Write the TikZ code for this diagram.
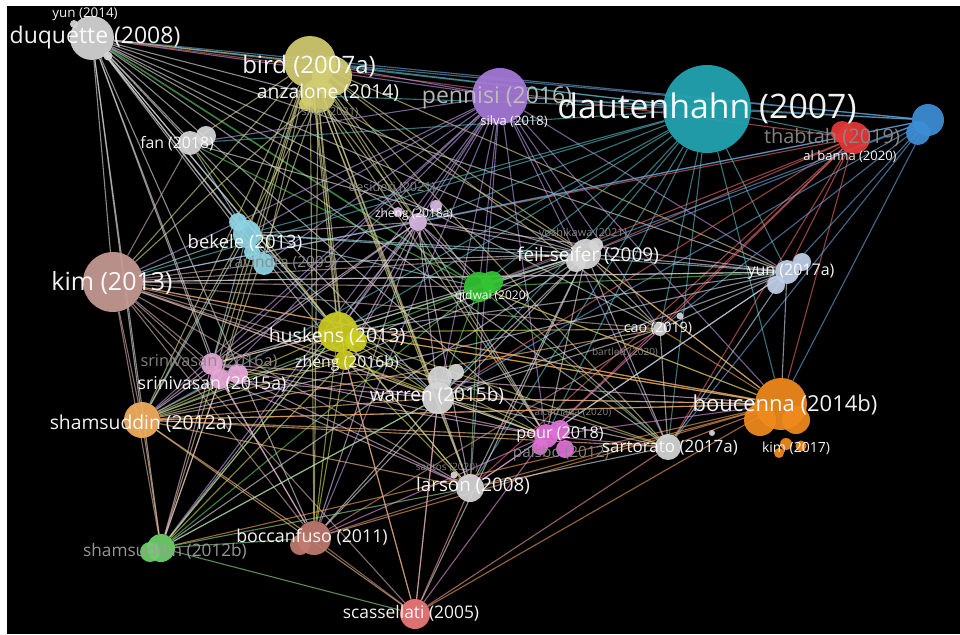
\documentclass[tikz,border=0pt]{standalone}
\usepackage{fontspec}
\setmainfont{Open Sans}
\pgfdeclarelayer{back}
\pgfdeclarelayer{edges}
\pgfsetlayers{back,edges,main}
\definecolor{cgry}{HTML}{D6D6D6}
\definecolor{cbird}{HTML}{D2CC72}
\definecolor{cpen}{HTML}{A67AD8}
\definecolor{cdau}{HTML}{22A6B3}
\definecolor{ctha}{HTML}{E63838}
\definecolor{cblu}{HTML}{3D8FD6}
\definecolor{czh}{HTML}{D8B8E2}
\definecolor{cbek}{HTML}{8ED4E4}
\definecolor{ckim}{HTML}{C89A94}
\definecolor{cqid}{HTML}{33C433}
\definecolor{cyun}{HTML}{C0D0E8}
\definecolor{chus}{HTML}{CCCC22}
\definecolor{csri}{HTML}{E8A8D8}
\definecolor{csham}{HTML}{F4B060}
\definecolor{cpour}{HTML}{E070D8}
\definecolor{cbou}{HTML}{F08A1C}
\definecolor{csht}{HTML}{6ED06A}
\definecolor{cbocc}{HTML}{C07A6E}
\definecolor{cscas}{HTML}{EC7A7A}
\definecolor{cfade}{HTML}{8A8A8A}
\tikzset{
  bub/.style={circle, fill=#1, draw=none, inner sep=0pt, fill opacity=0.93},
  lnk/.style={draw=#1!75!white, line width=1.1pt, draw opacity=0.62},
  lab/.style={font=\fontsize{#1}{#1}\selectfont, text=white, inner sep=0pt, text opacity=0.95},
  fad/.style={text=cfade}
}
\begin{document}
\begin{tikzpicture}[x=1pt,y=-1pt]
\useasboundingbox (0,0) rectangle (960,634);
\begin{pgfonlayer}{back}
\fill[white] (0,0) rectangle (960,634);
\fill[black] (7,6) rectangle (960,634);
\end{pgfonlayer}
% ---------- bubbles ----------
\node[bub=cgry, minimum size=8pt] (duq-b1) at (74,24) {};
\node[bub=cgry, minimum size=9pt] (duq-b2) at (108,56) {};
\node[bub=cgry, minimum size=44pt] (duq) at (92,38) {};
\node[bub=cbird, minimum size=40pt] (bird-b1) at (332,76) {};
\node[bub=cbird, minimum size=52pt] (bird) at (310,62) {};
\node[bub=cbird, minimum size=34pt] (anz) at (318,96) {};
\node[bub=cbird, minimum size=14pt] (silva21) at (306,104) {};
\node[bub=cpen, minimum size=56pt] (pen) at (500,96) {};
\node[bub=cdau, minimum size=88pt] (dau) at (707,109) {};
\node[bub=ctha, minimum size=22pt] (tha-b1) at (842,132) {};
\node[bub=ctha, minimum size=32pt] (tha) at (854,138) {};
\node[bub=cblu, minimum size=24pt] (blu-b1) at (918,133) {};
\node[bub=cblu, minimum size=32pt] (blu) at (928,120) {};
\node[bub=cgry, minimum size=20pt] (fan-b1) at (206,136) {};
\node[bub=cgry, minimum size=24pt] (fan) at (190,143) {};
\node[bub=czh, minimum size=12pt] (zh-b1) at (436,206) {};
\node[bub=czh, minimum size=18pt] (zh) at (418,222) {};
\node[bub=czh, minimum size=10pt] (zh-b2) at (398,212) {};
\node[bub=cbek, minimum size=18pt] (bek-b1) at (238,222) {};
\node[bub=cbek, minimum size=28pt] (bek) at (247,234) {};
\node[bub=cbek, minimum size=16pt] (bek-b2) at (252,252) {};
\node[bub=cbek, minimum size=22pt] (ravi) at (264,264) {};
\node[bub=ckim, minimum size=60pt] (kim) at (113,282) {};
\node[bub=cqid, minimum size=22pt] (qid-b1) at (492,282) {};
\node[bub=cqid, minimum size=30pt] (qid) at (479,287) {};
\node[bub=cgry, minimum size=20pt] (feil-b1) at (576,262) {};
\node[bub=cgry, minimum size=14pt] (feil-b2) at (596,245) {};
\node[bub=cgry, minimum size=30pt] (feil) at (586,254) {};
\node[bub=cyun, minimum size=18pt] (yun-b1) at (776,285) {};
\node[bub=cyun, minimum size=18pt] (yun-b2) at (802,262) {};
\node[bub=cyun, minimum size=24pt] (yun) at (787,272) {};
\node[bub=cgry, minimum size=7pt] (cao-b1) at (680,316) {};
\node[bub=cgry, minimum size=14pt] (cao) at (660,329) {};
\node[bub=chus, minimum size=22pt] (hus-b1) at (356,341) {};
\node[bub=chus, minimum size=20pt] (zh16) at (345,360) {};
\node[bub=chus, minimum size=40pt] (hus) at (338,332) {};
\node[bub=csri, minimum size=20pt] (sri-b1) at (238,374) {};
\node[bub=csri, minimum size=22pt] (sri) at (212,364) {};
\node[bub=csri, minimum size=20pt] (sri15) at (220,379) {};
\node[bub=csham, minimum size=36pt] (sham) at (142,420) {};
\node[bub=cgry, minimum size=16pt] (war-b1) at (456,372) {};
\node[bub=cgry, minimum size=24pt] (war-b2) at (440,378) {};
\node[bub=cgry, minimum size=32pt] (war) at (438,398) {};
\node[bub=cpour, minimum size=16pt] (pour-b1) at (540,447) {};
\node[bub=cpour, minimum size=20pt] (pour-b2) at (560,430) {};
\node[bub=cpour, minimum size=18pt] (palsbo) at (565,449) {};
\node[bub=cpour, minimum size=24pt] (pour) at (546,436) {};
\node[bub=cbou, minimum size=32pt] (bou-b1) at (760,420) {};
\node[bub=cbou, minimum size=28pt] (bou-b2) at (796,420) {};
\node[bub=cbou, minimum size=52pt] (bou) at (781,404) {};
\node[bub=cbou, minimum size=12pt] (kim17) at (786,444) {};
\node[bub=cbou, minimum size=11pt] (bou-b3) at (801,446) {};
\node[bub=cbou, minimum size=10pt] (bou-b4) at (779,453) {};
\node[bub=cgry, minimum size=6pt] (sart-b1) at (712,433) {};
\node[bub=cgry, minimum size=26pt] (sart) at (668,447) {};
\node[bub=cgry, minimum size=28pt] (lar) at (470,488) {};
\node[bub=cgry, minimum size=7pt] (santos) at (454,475) {};
\node[bub=csht, minimum size=20pt] (sht-b1) at (150,552) {};
\node[bub=csht, minimum size=28pt] (sht) at (161,548) {};
\node[bub=cbocc, minimum size=20pt] (bocc-b1) at (300,545) {};
\node[bub=cbocc, minimum size=34pt] (bocc) at (314,538) {};
\node[bub=cscas, minimum size=30pt] (scas) at (415,614) {};
% ---------- connectors ----------
\begin{pgfonlayer}{edges}
\foreach \t in {fan,bek,kim,hus,war,sri,sham,sht,feil,lar,sart,cao,zh,yun,bocc,pour,anz,ravi,zh16,sri15}
  \draw[lnk=cgry] (duq) -- (\t);
\draw[lnk=cdau] (duq) -- (dau);
\draw[lnk=cblu] (duq) -- (blu);
\draw[lnk=cbird] (duq) -- (bird);
\draw[lnk=cpen] (duq) -- (pen);
\draw[lnk=cqid, line width=1.6pt] (duq) -- (qid);
\draw[lnk=ctha] (duq) -- (tha);
\foreach \t in {kim,bek,hus,sri,sham,sht,war,qid,feil,zh,cao,bocc,lar,yun,pour,sart,fan,zh16,sri15,ravi}
  \draw[lnk=cbird] (bird) -- (\t);
\foreach \t in {kim,hus,sham,sht,war,zh,bocc,lar,feil,pour,zh16}
  \draw[lnk=cbird] (anz) -- (\t);
\foreach \t in {kim,bek,zh,qid,feil,hus,war,sri,sham,pour,lar,sart,cao,yun,bou,fan,bird,sht,bocc,zh16,sri15,ravi}
  \draw[lnk=cpen] (pen) -- (\t);
\foreach \t in {bird,pen,feil,qid,yun,kim,bek,zh,hus,war,cao,sart,bou,sham,pour,lar,tha,blu,anz,fan}
  \draw[lnk=cdau] (dau) -- (\t);
\foreach \t in {bou,yun,sart,cao,feil,war,pour,lar,qid,zh}
  \draw[lnk=ctha] (tha) -- (\t);
\foreach \t in {yun,bou,feil,cao,sart,qid,kim,pen,zh,bird,war}
  \draw[lnk=cblu] (blu) -- (\t);
\foreach \t in {kim,bek,feil,qid,hus,war,sri,sham,pour,sart,yun,lar,bocc,sht,zh16}
  \draw[lnk=czh] (zh) -- (\t);
\foreach \t in {kim,feil,hus,war,qid,yun,sham,sri,fan}
  \draw[lnk=cbek] (bek) -- (\t);
\foreach \t in {feil,qid,hus,war,sri,sham,sht,bocc,scas,lar,pour,sart,cao,yun,bou,fan,zh16,sri15,ravi}
  \draw[lnk=ckim] (kim) -- (\t);
\foreach \t in {feil,hus,war,sham,sht,yun,bou,lar,sart,fan}
  \draw[lnk=cqid] (qid) -- (\t);
\foreach \t in {yun,cao,hus,war,sri,sham,pour,lar,sart,bou,sht,bocc,scas,fan,zh16,ravi}
  \draw[lnk=cgry] (feil) -- (\t);
\foreach \t in {cao,sart,bou,war,hus,pour,lar,sham,kim}
  \draw[lnk=cyun] (yun) -- (\t);
\foreach \t in {sri,sham,sht,war,bocc,lar,pour,bou,scas,cao,sart,fan}
  \draw[lnk=chus] (hus) -- (\t);
\foreach \t in {sham,sht,war,bocc,lar,pour,sri15}
  \draw[lnk=chus] (zh16) -- (\t);
\foreach \t in {sham,war,pour,bou,lar,sht,bocc,hus}
  \draw[lnk=csri] (sri) -- (\t);
\foreach \t in {sham,war,pour,lar,sht,bocc}
  \draw[lnk=csri] (sri15) -- (\t);
\foreach \t in {sht,war,bocc,scas,lar,pour,bou,sart,cao}
  \draw[lnk=csham] (sham) -- (\t);
\foreach \t in {pour,lar,bou,sart,cao,sht,bocc,scas}
  \draw[lnk=cgry] (war) -- (\t);
\foreach \t in {bou,sart,lar,scas,bocc,cao}
  \draw[lnk=cpour] (pour) -- (\t);
\foreach \t in {sart,cao,lar,scas,sht,bocc,war,hus,sham,kim,qid,feil}
  \draw[lnk=cbou] (bou) -- (\t);
\foreach \t in {bocc,scas,lar,war,hus}
  \draw[lnk=csht] (sht) -- (\t);
\foreach \t in {scas,lar,cao}
  \draw[lnk=cbocc] (bocc) -- (\t);
\foreach \t in {lar,sart,hus,war}
  \draw[lnk=cscas] (scas) -- (\t);
\foreach \t in {cao,lar}
  \draw[lnk=cgry] (sart) -- (\t);
\end{pgfonlayer}
% ---------- labels ----------
\node[lab=13.4] (l-yun14) at (85,14) {yun (2014)};
\node[lab=23] (l-duq) at (95,38) {duquette (2008)};
\node[lab=24] (l-bird) at (309,66) {bird (2007a)};
\node[lab=19.3] (l-anz) at (328,93) {anzalone (2014)};
\node[lab=11, fad] (l-silva21) at (330,112) {silva (2021)};
\node[lab=23, text=white!75!black] (l-pen) at (497,98) {pennisi (2016)};
\node[lab=13] (l-silva18) at (514,122) {silva (2018)};
\node[lab=33.8] (l-dau) at (707,108) {dautenhahn (2007)};
\node[lab=20, fad] (l-tha) at (832,137) {thabtah (2019)};
\node[lab=13] (l-alb) at (850,157) {al banna (2020)};
\node[lab=15.8] (l-fan) at (177,144) {fan (2018)};
\node[lab=12.6, fad] (l-des) at (392,188) {desideri (2021)};
\node[lab=12] (l-zh) at (414,214) {zheng (2018a)};
\node[lab=18.5] (l-bek) at (245,243) {bekele (2013)};
\node[lab=15.5, fad] (l-ravi) at (283,263) {ravindra (2009)};
\node[lab=25] (l-kim) at (112,283) {kim (2013)};
\node[lab=11, fad] (l-yos) at (583,234) {yoshikawa (2021)};
\node[lab=19] (l-feil) at (588,256) {feil-seifer (2009)};
\node[lab=12] (l-qid) at (492,296) {qidwai (2020)};
\node[lab=16] (l-yun) at (791,272) {yun (2017a)};
\node[lab=14.3] (l-cao) at (658,328) {cao (2019)};
\node[lab=10, fad] (l-bart) at (625,352) {bartlett (2020)};
\node[lab=19.5] (l-hus) at (337,337) {huskens (2013)};
\node[lab=15.8] (l-zh16) at (347,363) {zheng (2016b)};
\node[lab=16.3, fad] (l-sri16) at (209,362) {srinivasan (2016a)};
\node[lab=17.7] (l-sri15) at (212,384) {srinivasan (2015a)};
\node[lab=19.3] (l-sham) at (141,424) {shamsuddin (2012a)};
\node[lab=19] (l-war) at (437,396) {warren (2015b)};
\node[lab=10, fad] (l-alc) at (573,413) {alcathaqa (2020)};
\node[lab=16.2] (l-pour) at (560,435) {pour (2018)};
\node[lab=15.4, fad] (l-pals) at (561,453) {palsbo (2012)};
\node[lab=22] (l-bou) at (785,405) {boucenna (2014b)};
\node[lab=14] (l-kim17) at (796,448) {kim (2017)};
\node[lab=17] (l-sart) at (670,448) {sartorato (2017a)};
\node[lab=10, fad] (l-santos) at (447,468) {santos (2020)};
\node[lab=18.8] (l-lar) at (473,486) {larson (2008)};
\node[lab=17.2, text=white!62!black] (l-sht) at (165,551) {shamsuddin (2012b)};
\node[lab=17.8] (l-bocc) at (312,537) {boccanfuso (2011)};
\node[lab=17.4] (l-scas) at (411,613) {scassellati (2005)};
\end{tikzpicture}
\end{document}
